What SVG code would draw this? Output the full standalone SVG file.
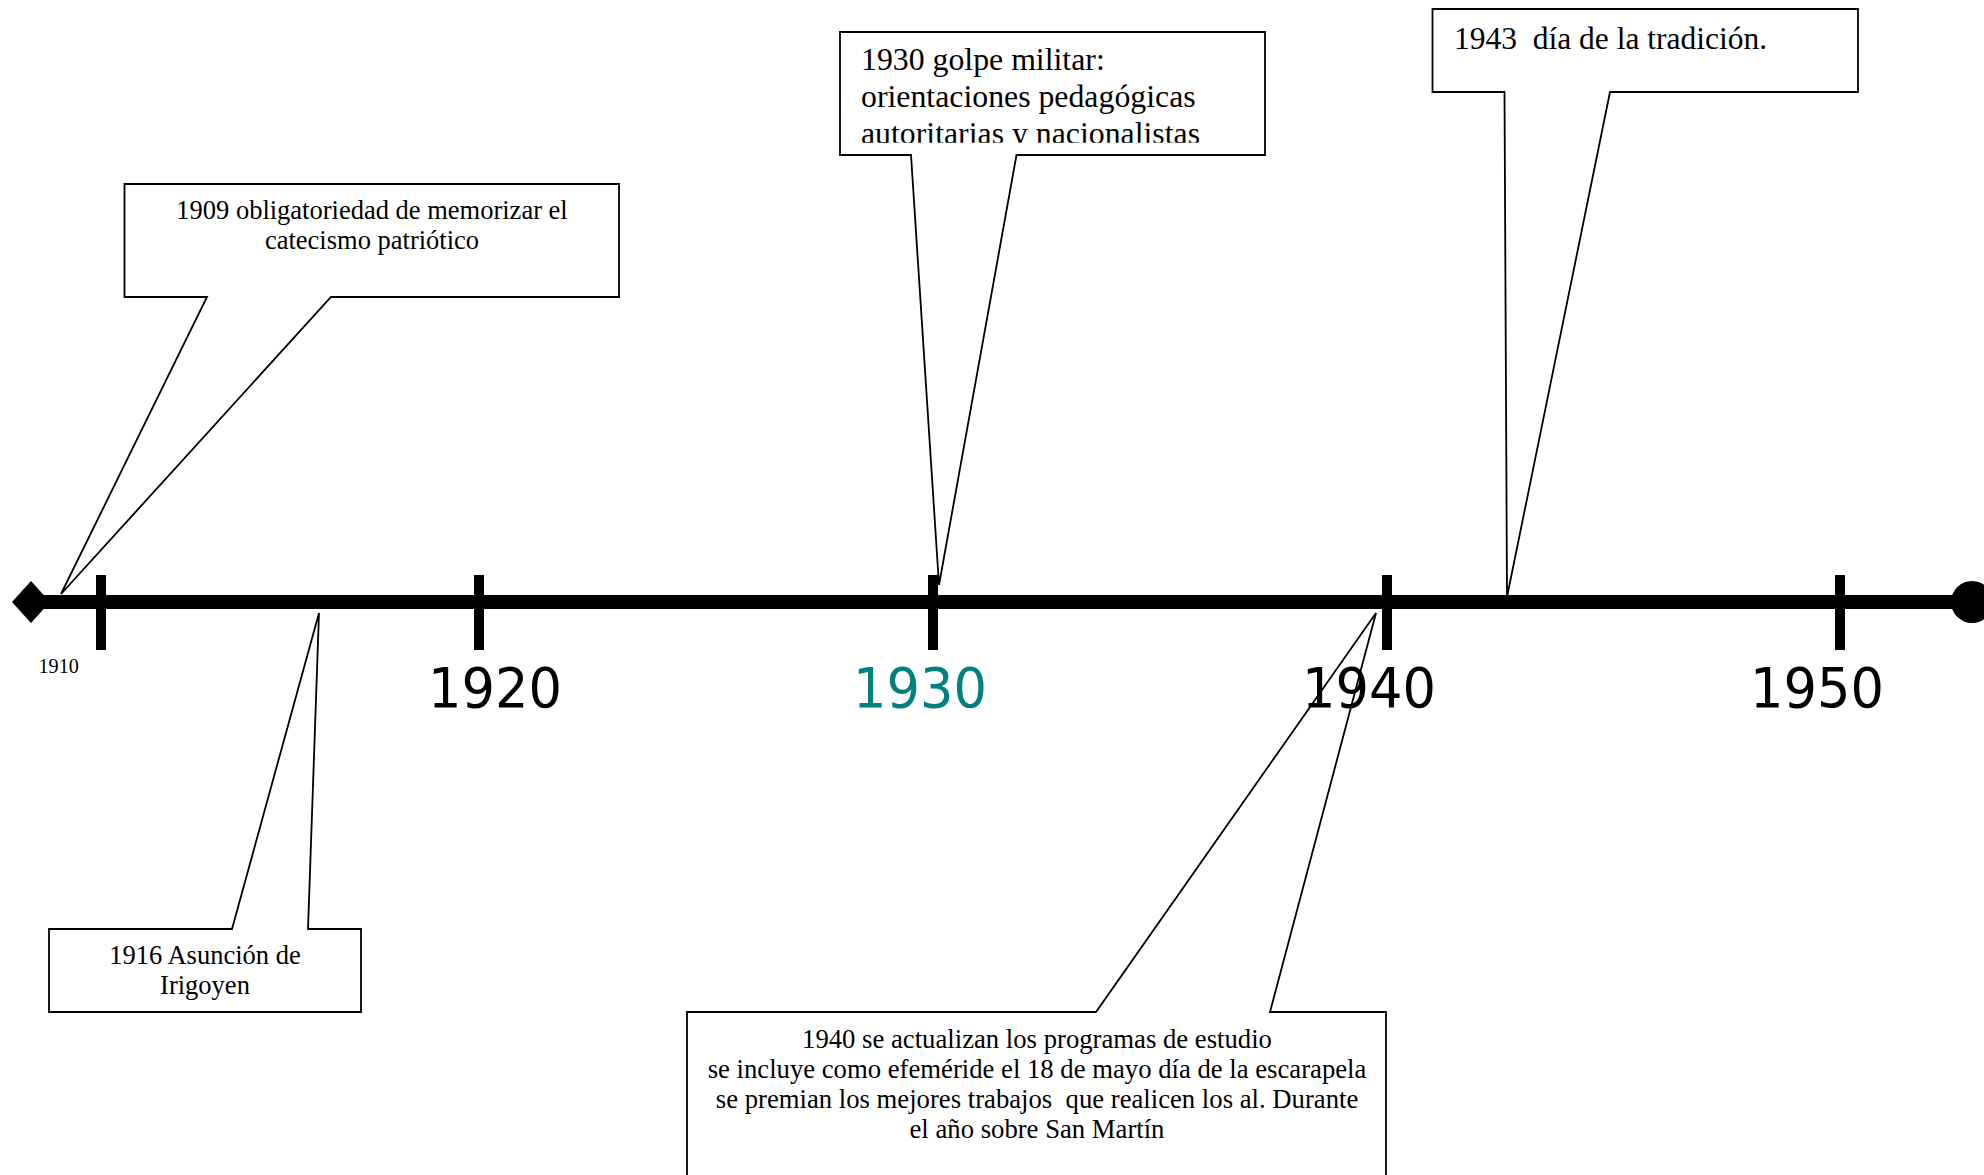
<svg xmlns="http://www.w3.org/2000/svg" width="1984" height="1175" viewBox="0 0 1984 1175">
<style>
.callout{fill:#fff;stroke:#000;stroke-width:1.8;stroke-linejoin:miter}
.t{font-family:"Liberation Serif","Times New Roman",serif;fill:#000;white-space:pre}
.c{text-anchor:middle}
.yr{font-family:"DejaVu Sans",Verdana,sans-serif;font-size:55px;fill:#000}
.tick{fill:#000}
</style>
<defs>
<clipPath id="clip1930"><rect x="842" y="33" width="422" height="109.7"/></clipPath>
</defs>
<rect width="1984" height="1175" fill="#fff"/>

<g id="callout-1909">
<path class="callout" d="M124.5,184 H619 V297 H331 L61,594 L207,297 H124.5 Z"/>
<text class="t c" x="372" y="219" font-size="26.5">1909 obligatoriedad de memorizar el</text>
<text class="t c" x="372" y="249" font-size="26.5">catecismo patriótico</text>
</g>

<g id="callout-1916">
<path class="callout" d="M49,929 H232 L319,613 L308,929 H361 V1012 H49 Z"/>
<text class="t c" x="205" y="964" font-size="26.5">1916 Asunción de</text>
<text class="t c" x="205" y="994" font-size="26.5">Irigoyen</text>
</g>

<g id="callout-1930">
<path class="callout" d="M840,32 H1265 V155 H1016.5 L939,585 L911,155 H840 Z"/>
<g clip-path="url(#clip1930)">
<text class="t" x="861" y="70" font-size="31.8">1930 golpe militar:</text>
<text class="t" x="861" y="107" font-size="31.8">orientaciones pedagógicas</text>
<text class="t" x="861" y="144" font-size="31.8">autoritarias y nacionalistas</text>
</g>
</g>

<g id="callout-1943">
<path class="callout" d="M1432.5,9 H1858 V92 H1610 L1507,597 L1504.5,92 H1432.5 Z"/>
<text class="t" x="1454" y="49" font-size="31.5" xml:space="preserve">1943  día de la tradición.</text>
</g>

<g id="callout-1940">
<path class="callout" d="M687,1012 H1096 L1376,613 L1270,1012 H1386 V1190 H687 Z"/>
<text class="t c" x="1037" y="1048" font-size="26.7">1940 se actualizan los programas de estudio</text>
<text class="t c" x="1037" y="1078" font-size="26.7">se incluye como efeméride el 18 de mayo día de la escarapela</text>
<text class="t c" x="1037" y="1108" font-size="26.7" xml:space="preserve">se premian los mejores trabajos  que realicen los al. Durante</text>
<text class="t c" x="1037" y="1138" font-size="26.7">el año sobre San Martín</text>
</g>

<g id="axis">
<line x1="31" y1="602" x2="1972" y2="602" stroke="#000" stroke-width="14"/>
<polygon points="12,602 31,581 50,602 31,623" fill="#000"/>
<circle cx="1972" cy="602" r="21" fill="#000"/>
<rect class="tick" x="96" y="575" width="10" height="75"/>
<rect class="tick" x="474" y="575" width="10" height="75"/>
<rect class="tick" x="928" y="575" width="10" height="75"/>
<rect class="tick" x="1382" y="575" width="10" height="75"/>
<rect class="tick" x="1835" y="575" width="10" height="75"/>
</g>

<g id="labels">
<text class="t" x="38.5" y="673" font-size="20.2">1910</text>
<text class="yr" x="428" y="707" textLength="134" lengthAdjust="spacingAndGlyphs">1920</text>
<text class="yr" x="853" y="707" textLength="134" lengthAdjust="spacingAndGlyphs" style="fill:#008080">1930</text>
<text class="yr" x="1302" y="707" textLength="134" lengthAdjust="spacingAndGlyphs">1940</text>
<text class="yr" x="1750" y="707" textLength="134" lengthAdjust="spacingAndGlyphs">1950</text>
</g>
</svg>
